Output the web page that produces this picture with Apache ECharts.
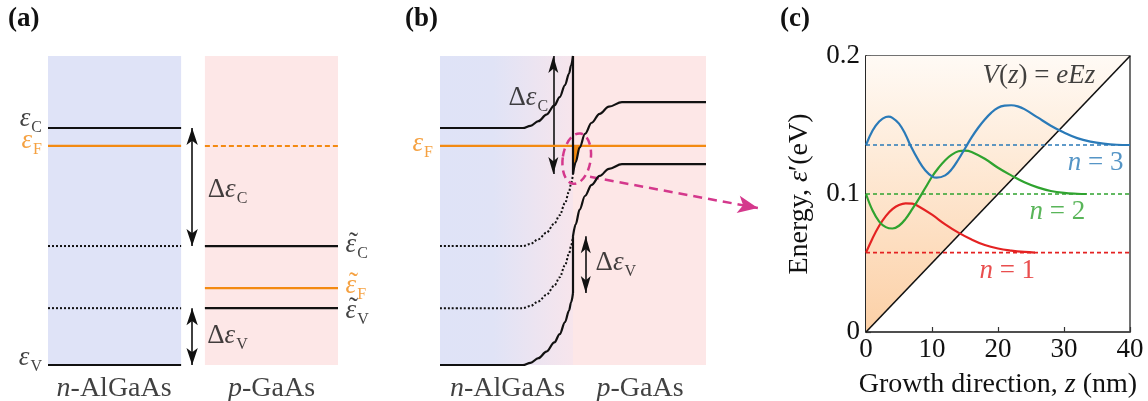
<!DOCTYPE html>
<html><head><meta charset="utf-8">
<script src="https://cdn.jsdelivr.net/npm/echarts@6/dist/echarts.min.js"></script>
<style>html,body{margin:0;padding:0;background:#fff}#c{width:1148px;height:401px}</style>
</head><body><div id="c"></div>
<script>
// ================= DATA =================
// Panel (a): flat-band energy levels (arbitrary energy units, εV of n-AlGaAs = 0)
const regionN = [0, 45.9];          // n-AlGaAs extent (arb. position)
const regionP = [54.1, 100];        // p-GaAs extent
const levelsN = [76.7, 70.9, 0];    // εC, εF, εV   (n-AlGaAs)
const levelsP = [38.5, 24.9, 18.4]; // ε̃C, ε̃F, ε̃V  (p-GaAs)
const arrowXA = 49.7;               // position of the ΔεC / ΔεV arrows

// Panel (b): bent bands at the heterojunction
const cbN  = [[0,76.7],[31.2,76.7],[34,77.4],[37,78.9],[40,81.0],[43,84.0],[45,86.7],[47,90.6],[48.5,94.3],[49.3,97.0],[50,100]];
const cbStep = [[50,100],[50,61.8]];
const cbP  = [[50,61.8],[51,65.6],[52.5,70.4],[54.5,74.8],[57,78.4],[60,81.3],[63.5,83.6],[68.4,85.1],[100,85.1]];
const vbN  = [[0,0],[31.2,0],[34,0.7],[37,2.2],[40,4.3],[43,7.3],[45,10.0],[47,13.9],[48.5,17.6],[49.3,20.3],[50,23.3]];
const vbStep = [[50,23.3],[50,41.7]];
const vbP  = [[50,41.7],[51,45.5],[52.5,50.3],[54.5,54.7],[57,58.3],[60,61.2],[63.5,63.5],[68.4,65.0],[100,65.0]];
const dotC = [[0,38.5],[31.2,38.5],[34,39.2],[37,40.7],[40,42.8],[43,45.8],[45,48.5],[47,52.4],[48.5,56.1],[49.3,58.8],[50,61.8]];
const dotV = [[0,18.4],[31.2,18.4],[34,19.1],[37,20.6],[40,22.7],[43,25.7],[45,28.4],[47,32.3],[48.5,36.0],[49.3,38.7],[50,41.7]];
const fermiB = 70.9;
const electronFill = [[50,61.8],[51,65.6],[52.5,70.4],[52.65,70.9],[50,70.9]];
const arrowXB = [42.6, 54.8];
const junctionMark = [51.4, 66.8, 5.26, 8.2];       // centre x, centre y, half-width, half-height
const zoomArrow = [[56.4, 60.9], [119.5, 50.8]];

// Panel (c): triangular well V(z)=eEz and wavefunctions
const zTicks = ['0', '10', '20', '30', '40'];
const eTicks = ['0', '', '0.1', '', '0.2'];
const potentialZ = [0, 40];
const potentialE = [0, 0.2];
const levelsC = [0.0575, 0.1, 0.1355];
const psi1Z = [0,1,2,3,4,5,6,7,8,10,12,14,16,18,20,22,24,25.6];
const psi1E = [0.0575,0.068,0.077,0.084,0.089,0.092,0.0932,0.093,0.091,0.085,0.078,0.072,0.067,0.063,0.0605,0.059,0.058,0.0575];
const psi2Z = [0,1,2,3,4,5,6,7,8,9,10,11,12,13,14,15,16,18,20,22,24,26,28,30,32,33.4];
const psi2E = [0.100,0.088,0.080,0.076,0.075,0.077,0.082,0.089,0.0965,0.1045,0.1125,0.119,0.1245,0.1285,0.131,0.1315,0.1305,0.1255,0.119,0.1135,0.1085,0.1048,0.1022,0.1008,0.1002,0.100];
const psi3Z = [0,1,2,3,3.4,4,5,6,6.7,8,9,10,10.7,12,13,14,15,16,17,18,19,20,21,22,23,24,26,28,30,32,34,36,38,40];
const psi3E = [0.1355,0.146,0.1525,0.1558,0.156,0.1552,0.151,0.143,0.1355,0.124,0.117,0.1128,0.1118,0.1135,0.118,0.125,0.133,0.141,0.148,0.154,0.159,0.1625,0.164,0.1643,0.1635,0.1615,0.1555,0.1495,0.1445,0.1405,0.138,0.1365,0.1357,0.1355];

// ================= STYLE =================
const SERIF = "'Liberation Serif', 'Times New Roman', serif";
const INK = '#111111';
const ORANGE = '#f38a12';
const MAGENTA = '#d4388c';
const BLUE = '#2a7ab8', GREEN = '#2fa32f', RED = '#e42222';
const BG_BLUE = '#dfe3f7', BG_PINK = '#fde7e7';

function richFor(color, size) {
  const fs = size || 27;
  return {
    e: {fontFamily: SERIF, fontSize: fs, fontStyle: 'italic', color: color},
    r: {fontFamily: SERIF, fontSize: fs, color: color},
    s: {fontFamily: SERIF, fontSize: 16, color: color, padding: [18, 0, 0, 1]}
  };
}
function ann(at, text, color, pos, dist, dy, size) {
  const c = color || INK;
  return {value: at, label: {show: true, formatter: text, position: pos || 'inside',
    distance: dist || 0, offset: [0, dy || 0], color: c, fontFamily: SERIF, fontSize: size || 27, rich: richFor(c, size)}};
}
function textSeries(gi, items) {
  return {type: 'scatter', xAxisIndex: gi, yAxisIndex: gi, symbolSize: 1, clip: false, silent: true, z: 20,
    itemStyle: {color: 'transparent'}, data: items};
}
function line(gi, pts, color, width, type, extra) {
  return Object.assign({type: 'line', xAxisIndex: gi, yAxisIndex: gi, data: pts, symbol: 'none', clip: false,
    silent: true, z: 5, lineStyle: {color: color, width: width, type: type || 'solid'}}, extra || {});
}
const zip = (xs, ys) => xs.map((x, i) => [x, ys[i]]);
const hl = (x01, y) => [[x01[0], y], [x01[1], y]];
const DOT = [2, 2];
const SMOOTH = {smooth: 0.35, smoothMonotone: 'x'};
function arrowPair(x, y0, y1) { return [{coord: [x, y0]}, {coord: [x, y1]}]; }

const series = [];
// ---------- (a) ----------
series.push(line(0, [[regionN[0], 0]], 'transparent', 0, 'solid', {z: 0,
  markArea: {silent: true, data: [
    [{coord: [regionN[0], 0], itemStyle: {color: BG_BLUE}}, {coord: [regionN[1], 100]}],
    [{coord: [regionP[0], 0], itemStyle: {color: BG_PINK}}, {coord: [regionP[1], 100]}]
  ]}}));
series.push(line(0, hl(regionN, levelsN[0]), INK, 2.2));
series.push(line(0, hl(regionN, levelsN[1]), ORANGE, 2.2));
series.push(line(0, hl(regionN, levelsN[2]), INK, 2.2));
series.push(line(0, hl(regionN, levelsP[0]), INK, 2, DOT));
series.push(line(0, hl(regionN, levelsP[2]), INK, 2, DOT));
series.push(line(0, hl(regionP, levelsN[1]), ORANGE, 2, [5, 3]));
series.push(line(0, hl(regionP, levelsP[0]), INK, 2.2));
series.push(line(0, hl(regionP, levelsP[1]), ORANGE, 2.2));
series.push(line(0, hl(regionP, levelsP[2]), INK, 2.2));
series.push(line(0, [[arrowXA, 50]], 'transparent', 0, 'solid', {z: 6,
  markLine: {silent: true, symbol: ['arrow', 'arrow'], symbolSize: [8.5, 17], label: {show: false},
    lineStyle: {color: INK, width: 1.6, type: 'solid'}, itemStyle: {color: INK},
    data: [arrowPair(arrowXA, levelsN[0], levelsP[0]), arrowPair(arrowXA, levelsP[2], levelsN[2])]}}));
series.push(textSeries(0, [
  ann([regionN[0], levelsN[0]], '{e|ε}{s|C}', INK, 'left', 5.5, -9),
  ann([regionN[0], levelsN[1]], '{e|ε}{s|F}', ORANGE, 'left', 5.5, -4.7),
  ann([regionN[0], levelsN[2]], '{e|ε}{s|V}', INK, 'left', 5.5, -7),
  ann([regionP[1], levelsP[0]], '{e|ε}{s|C}', INK, 'right', 7, -1),
  ann([regionP[1], levelsP[1]], '{e|ε}{s|F}', ORANGE, 'right', 7, -2.5),
  ann([regionP[1], levelsP[2]], '{e|ε}{s|V}', INK, 'right', 7, 2.5),
  ann([regionP[1], levelsP[0]], '{r|˜}', INK, 'right', 10.5, -2.5),
  ann([regionP[1], levelsP[1]], '{r|˜}', ORANGE, 'right', 10.5, -4),
  ann([regionP[1], levelsP[2]], '{r|˜}', INK, 'right', 10.5, 1),
  ann([61.9, 56.8], '{r|Δ}{e|ε}{s|C}'),
  ann([61.9, 9.4], '{r|Δ}{e|ε}{s|V}'),
  ann([22.8, -7.6], '{e|n}{r|-AlGaAs}', INK, 'inside', 0, 0, 28),
  ann([77.1, -7.6], '{e|p}{r|-GaAs}', INK, 'inside', 0, 0, 28)
]));

// ---------- (b) ----------
series.push(line(1, [[0, 0]], 'transparent', 0, 'solid', {z: 0,
  markArea: {silent: true, data: [
    [{coord: [0, 0], itemStyle: {color: {type: 'linear', x: 0, y: 0, x2: 1, y2: 0, colorStops: [
      {offset: 0, color: BG_BLUE}, {offset: 0.2, color: '#e0e3f6'}, {offset: 0.5, color: '#f7e5ec'},
      {offset: 0.5, color: BG_PINK}, {offset: 1, color: BG_PINK}]}}}, {coord: [100, 100]}]
  ]}}));
series.push({type: 'custom', coordinateSystem: 'cartesian2d', xAxisIndex: 1, yAxisIndex: 1, silent: true, clip: false, z: 3,
  data: [[electronFill[0][0], electronFill[0][1]]],
  renderItem: (p, api) => ({type: 'polygon', shape: {points: electronFill.map(pt => api.coord(pt))}, style: {fill: ORANGE}})});
series.push(line(1, hl([0, 100], fermiB), ORANGE, 2.2));
series.push(line(1, cbN, INK, 2.2, 'solid', SMOOTH));
series.push(line(1, cbStep, INK, 2.2));
series.push(line(1, cbP, INK, 2.2, 'solid', SMOOTH));
series.push(line(1, vbN, INK, 2.2, 'solid', SMOOTH));
series.push(line(1, vbStep, INK, 2.2));
series.push(line(1, vbP, INK, 2.2, 'solid', SMOOTH));
series.push(line(1, dotC, INK, 2, DOT, SMOOTH));
series.push(line(1, dotV, INK, 2, DOT, SMOOTH));
series.push(line(1, [[arrowXB[0], 50]], 'transparent', 0, 'solid', {z: 6,
  markLine: {silent: true, symbol: ['arrow', 'arrow'], symbolSize: [7.5, 17], label: {show: false},
    lineStyle: {color: INK, width: 1.6, type: 'solid'}, itemStyle: {color: INK},
    data: [arrowPair(arrowXB[0], 100, cbStep[1][1]), arrowPair(arrowXB[1], vbStep[1][1], vbStep[0][1])]}}));
series.push({type: 'custom', coordinateSystem: 'cartesian2d', xAxisIndex: 1, yAxisIndex: 1, silent: true, clip: false, z: 8,
  data: [[junctionMark[0], junctionMark[1]]],
  renderItem: (p, api) => {
    const c = api.coord([junctionMark[0], junctionMark[1]]);
    const s = api.size([junctionMark[2], junctionMark[3]]);
    return {type: 'ellipse', shape: {cx: 0, cy: 0, rx: s[0], ry: s[1]}, x: c[0], y: c[1], rotation: -0.15,
      style: {fill: null, stroke: MAGENTA, lineWidth: 2.5, lineDash: [8, 5]}};
  }});
series.push(line(1, [zoomArrow[0]], 'transparent', 0, 'solid', {z: 8,
  markLine: {silent: true, symbol: ['none', 'arrow'], symbolSize: [13, 20], label: {show: false},
    lineStyle: {color: MAGENTA, width: 2.5, type: [9, 6], curveness: -0.12}, itemStyle: {color: MAGENTA},
    data: [[{coord: zoomArrow[0]}, {coord: zoomArrow[1]}]]}}));
series.push(textSeries(1, [
  ann([0, fermiB], '{e|ε}{s|F}', ORANGE, 'left', 6.5, -2),
  ann([33.2, 86.4], '{r|Δ}{e|ε}{s|C}'),
  ann([66.1, 33.0], '{r|Δ}{e|ε}{s|V}'),
  ann([25.4, -7.6], '{e|n}{r|-AlGaAs}', INK, 'inside', 0, 0, 28),
  ann([75.2, -7.6], '{e|p}{r|-GaAs}', INK, 'inside', 0, 0, 28)
]));

// ---------- (c) ----------
series.push(line(2, zip(potentialZ, potentialE), INK, 1.6, 'solid', {z: 2,
  areaStyle: {origin: 'end', opacity: 1, color: {type: 'linear', x: 0, y: 0, x2: 0, y2: 1, colorStops: [
    {offset: 0, color: '#fffaf5'}, {offset: 1, color: '#fcd0a6'}]}}}));
series.push(line(2, hl([0, 40], levelsC[0]), RED, 1.6, [4, 3]));
series.push(line(2, hl([0, 40], levelsC[1]), GREEN, 1.6, [4, 3]));
series.push(line(2, hl([0, 40], levelsC[2]), BLUE, 1.6, [4, 3]));
series.push(line(2, zip(psi1Z, psi1E), RED, 2.2, 'solid', {smooth: 0.4, z: 6}));
series.push(line(2, zip(psi2Z, psi2E), GREEN, 2.2, 'solid', {smooth: 0.4, z: 6}));
series.push(line(2, zip(psi3Z, psi3E), BLUE, 2.2, 'solid', {smooth: 0.4, z: 6}));
series.push(textSeries(2, [
  ann([26.2, 0.1856], '{e|V}{r|(}{e|z}{r|) = }{e|eEz}'),
  ann([34.8, 0.1222], '{e|n}{r| = 3}', BLUE),
  ann([29.0, 0.0872], '{e|n}{r| = 2}', GREEN),
  ann([21.4, 0.0443], '{e|n}{r| = 1}', RED)
]));

const PANEL_TITLE = {fontFamily: SERIF, fontWeight: 'bold', fontSize: 27, color: INK};
const hiddenAxis = (gi, max) => ({gridIndex: gi, type: 'value', min: 0, max: max, show: false});
const axisFont = {fontFamily: SERIF, fontSize: 27, color: INK};
const nameFont = {fontFamily: SERIF, fontSize: 28, color: INK};

const option = {
  animation: false,
  backgroundColor: '#ffffff',
  tooltip: {show: false},
  title: [
    {text: '(a)', left: 8, top: 6, padding: 0, textStyle: PANEL_TITLE},
    {text: '(b)', left: 405, top: 6, padding: 0, textStyle: PANEL_TITLE},
    {text: '(c)', left: 780, top: 6, padding: 0, textStyle: PANEL_TITLE}
  ],
  grid: [
    {left: 48, top: 56, width: 290, height: 309, outerBoundsMode: 'none'},
    {left: 440, top: 56, width: 319.2, height: 309, outerBoundsMode: 'none'},
    {left: 866, top: 56, width: 264, height: 276, show: true, borderColor: '#444', borderWidth: 1.5,
      backgroundColor: 'transparent', outerBoundsMode: 'none'}
  ],
  xAxis: [
    hiddenAxis(0, 100), hiddenAxis(1, 120),
    {gridIndex: 2, type: 'value', min: 0, max: 40, interval: 10,
      axisLine: {show: true, lineStyle: {color: '#444', width: 1.5}},
      axisTick: {show: true, inside: true, length: 5, lineStyle: {color: '#333', width: 1.2}},
      axisLabel: Object.assign({margin: 4, formatter: v => zTicks[Math.round(v / 10)]}, axisFont),
      splitLine: {show: false},
      name: '{r|Growth direction, }{e|z}{r| (nm)}', nameLocation: 'middle', nameGap: 38.5, nameMoveOverlap: false,
      nameTextStyle: Object.assign({rich: richFor(INK, 28)}, nameFont)}
  ],
  yAxis: [
    hiddenAxis(0, 100), hiddenAxis(1, 100),
    {gridIndex: 2, type: 'value', min: 0, max: 0.2, interval: 0.05,
      axisLine: {show: true, lineStyle: {color: '#111', width: 1.5}},
      axisTick: {show: true, inside: true, length: 5, lineStyle: {color: '#333', width: 1.2}},
      axisLabel: Object.assign({margin: 6, formatter: v => eTicks[Math.round(v / 0.05)]}, axisFont),
      splitLine: {show: false},
      name: '{r|Energy, }{e|ε}{r|′(eV)}', nameLocation: 'middle', nameGap: 52, nameMoveOverlap: false,
      nameTextStyle: Object.assign({rich: richFor(INK, 28)}, nameFont)}
  ],
  series: series
};
const chart = echarts.init(document.getElementById('c'), null, {renderer: 'canvas'});
chart.setOption(option);
</script></body></html>
